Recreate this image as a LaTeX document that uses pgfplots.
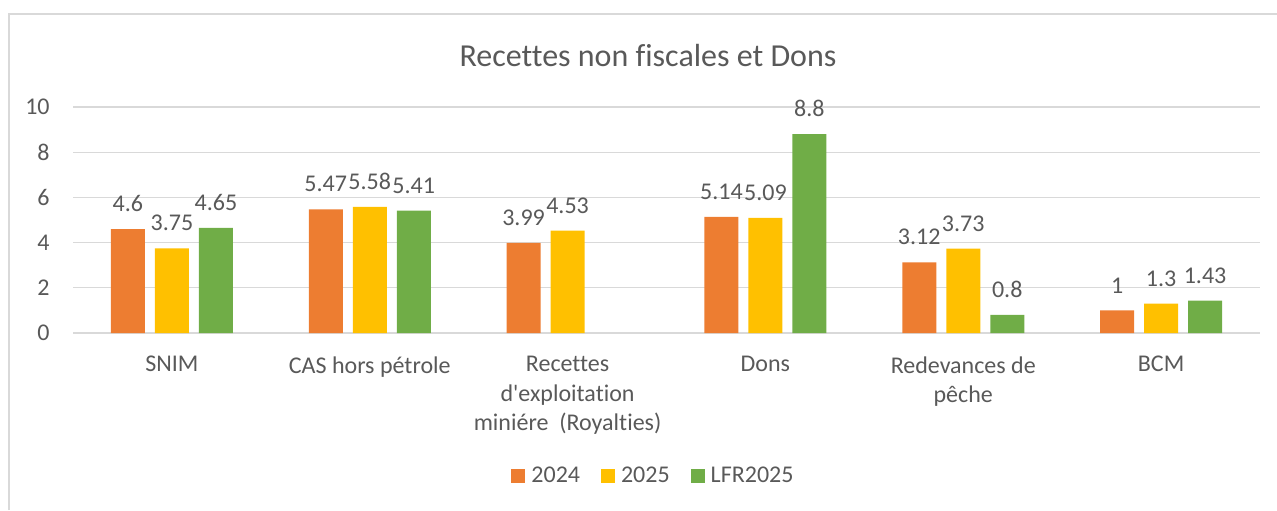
\documentclass[border=0pt]{standalone}
\usepackage{fontspec}
\setmainfont{Carlito}[Ligatures={TeX,NoCommon}]
\usepackage{pgfplots}
\pgfplotsset{compat=1.18}
\definecolor{c2024}{RGB}{237,125,49}
\definecolor{c2025}{RGB}{255,192,0}
\definecolor{clfr}{RGB}{112,173,71}
\definecolor{txt}{RGB}{89,89,89}
\definecolor{gridc}{RGB}{217,217,217}

\begin{document}
\begin{tikzpicture}
\begin{axis}[
  at={(0,0)}, anchor=south west,
  scale only axis, width=593.5pt, height=113pt,
  ybar=5pt, bar width=17pt,
  ymin=0, ymax=10, ytick={0,2,...,10},
  xmin=-0.5, xmax=5.5, xtick={0,...,5},
  xticklabels={SNIM, CAS hors pétrole, Recettes\\d\textquotesingle exploitation\\miniére~ (Royalties), Dons, Redevances de\\pêche, BCM},
  xticklabel style={align=center, anchor=north, inner sep=0pt, yshift=-11.5pt,
    font=\fontsize{12}{14.75}\selectfont, text=txt},
  yticklabel style={anchor=east, inner sep=0pt, xshift=-11.5pt,
    font=\fontsize{12}{14}\selectfont, text=txt},
  /pgf/number format/assume math mode=true,
  major tick length=0pt,
  axis x line*=bottom, axis y line*=left,
  y axis line style={draw=none},
  x axis line style={draw=gridc, line width=0.9pt, -},
  ymajorgrids, grid style={draw=gridc, line width=0.6pt},
  nodes near coords,
  every node near coord/.append style={font=\fontsize{12}{14}\selectfont, text=txt,
    anchor=south, inner sep=0pt, yshift=8.5pt},
  legend columns=3,
  legend style={at={(0.4886,-0.633)}, anchor=center, draw=none, fill=none,
    font=\fontsize{12}{14}\selectfont, text=txt,
    nodes={inner xsep=0.5pt},
    /tikz/every odd column/.append style={column sep=2.5pt},
    /tikz/every even column/.append style={column sep=10pt}},
  legend image code/.code={\fill[#1] (0pt,-3.5pt) rectangle (7pt,3.5pt);},
]
\addplot[fill=c2024, draw=none] coordinates
  {(0,4.6)(1,5.47)(2,3.99)(3,5.14)(4,3.12)(5,1)};
\addplot[fill=c2025, draw=none] coordinates
  {(0,3.75)(1,5.58)(2,4.53)(3,5.09)(4,3.73)(5,1.3)};
\addplot[fill=clfr, draw=none] coordinates
  {(0,4.65)(1,5.41)(3,8.8)(4,0.8)(5,1.43)};
\legend{2024, 2025, LFR2025}
\end{axis}
\pgfresetboundingbox
\path[use as bounding box] (-36.5pt,-88.5pt) rectangle (602pt,166.5pt);
\draw[gridc, line width=1pt] (-32pt,-88.5pt) -- (-32pt,159.5pt) -- (602pt,159.5pt);
\node[text=txt, font=\fontsize{16}{18}\selectfont] at (287.5pt,138.5pt) {Recettes non fiscales et Dons};
\end{tikzpicture}
\end{document}
